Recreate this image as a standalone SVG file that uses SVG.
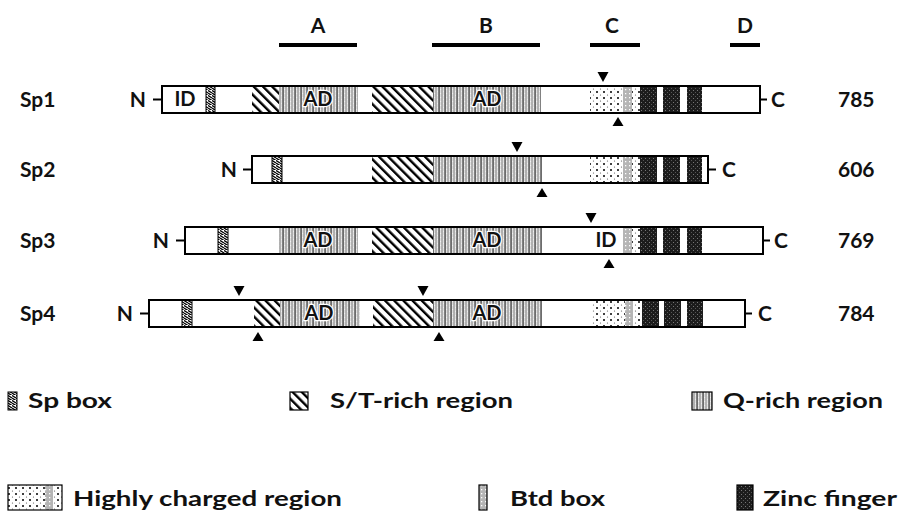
<svg xmlns="http://www.w3.org/2000/svg" width="898" height="515" viewBox="0 0 898 515">
<style>
.t{font-family:Lato,"Open Sans","Liberation Sans",sans-serif;font-weight:700;fill:#111}
.lbl{font-size:21px}
.hd{font-size:21px}
.leg{font-size:20px}
.ad{font-size:20px;text-anchor:middle;stroke:#fff;stroke-width:2.5px;paint-order:stroke;stroke-linejoin:round}
.bar{fill:none;stroke:#000;stroke-width:2}
.dash{stroke:#000;stroke-width:2}
.hbar{stroke:#000;stroke-width:4}
.tri{fill:#000}
.st{fill:url(#st)}
.q{fill:url(#q)}
.sp{fill:url(#sp);stroke:#000;stroke-width:1}
.hc{fill:url(#hc)}
.btd{fill:url(#btd)}
.zn{fill:url(#zn)}
.w{fill:#fff}
</style>
<defs>
<pattern id="st" patternUnits="userSpaceOnUse" width="6.5" height="6.5" patternTransform="rotate(-45)">
<rect width="6.5" height="6.5" fill="#fff"/>
<rect x="0" y="0" width="2.4" height="6.5" fill="#000"/>
</pattern>
<pattern id="q" patternUnits="userSpaceOnUse" width="6" height="4">
<rect width="6" height="4" fill="#e0e0e0"/>
<rect x="0.5" width="1.1" height="4" fill="#222"/>
<rect x="3.6" width="0.8" height="4" fill="#666"/>
<rect x="2.3" y="1" width="0.8" height="0.8" fill="#fff"/>
<rect x="5" y="3" width="0.7" height="0.7" fill="#fff"/>
</pattern>
<pattern id="sp" patternUnits="userSpaceOnUse" width="4" height="5">
<rect width="4" height="5" fill="#fff"/>
<path d="M0 0.5 L4 3 M0 3 L4 5.5" stroke="#000" stroke-width="1.4" fill="none"/>
</pattern>
<pattern id="hc" patternUnits="userSpaceOnUse" width="7" height="6">
<rect width="7" height="6" fill="#fff"/>
<circle cx="2" cy="2" r="1" fill="#000"/>
<circle cx="5.5" cy="5" r="0.6" fill="#555"/>
</pattern>
<pattern id="btd" patternUnits="userSpaceOnUse" width="4" height="4">
<rect width="4" height="4" fill="#b5b5b5"/>
<rect x="1" y="1" width="1.3" height="1.3" fill="#fff"/>
</pattern>
<pattern id="zn" patternUnits="userSpaceOnUse" width="4" height="4">
<rect width="4" height="4" fill="#1c1c1c"/>
<rect x="1" y="2" width="1" height="1" fill="#777"/>
<rect x="3" y="0" width="1" height="1" fill="#555"/>
</pattern>
</defs>
<rect width="898" height="515" fill="#fff"/>

<g id="header">
<text class="t hd" x="318" y="33" text-anchor="middle">A</text>
<text class="t hd" x="486" y="33" text-anchor="middle">B</text>
<text class="t hd" x="612" y="33" text-anchor="middle">C</text>
<text class="t hd" x="745" y="33" text-anchor="middle">D</text>
<line class="hbar" x1="279" y1="45" x2="357" y2="45"/>
<line class="hbar" x1="432" y1="45" x2="540" y2="45"/>
<line class="hbar" x1="590" y1="45" x2="640" y2="45"/>
<line class="hbar" x1="730" y1="45" x2="760" y2="45"/>
</g>

<g id="sp1">
<text class="t lbl" x="20" y="107">Sp1</text>
<text class="t lbl" x="146" y="107" text-anchor="end">N</text>
<text class="t lbl" x="838" y="107">785</text>
<text class="t lbl" x="771" y="107">C</text>
<rect class="w" x="162" y="86" width="598" height="27"/>
<rect class="sp" x="206" y="86" width="9" height="27"/>
<rect class="st" x="252" y="86" width="27" height="27"/>
<rect class="q" x="279" y="86" width="79" height="27"/>
<rect class="st" x="372" y="86" width="61" height="27"/>
<rect class="q" x="433" y="86" width="108" height="27"/>
<rect class="hc" x="590" y="86" width="33" height="27"/>
<rect class="btd" x="623" y="86" width="9" height="27"/>
<rect class="hc" x="632" y="86" width="8" height="27"/>
<rect class="zn" x="640" y="86" width="17" height="27"/>
<rect class="zn" x="663" y="86" width="17" height="27"/>
<rect class="zn" x="687" y="86" width="15" height="27"/>
<rect class="bar" x="162" y="86" width="598" height="27"/>
<text class="t ad" x="185" y="106">ID</text>
<text class="t ad" x="318" y="106">AD</text>
<text class="t ad" x="487" y="106">AD</text>
<polygon class="tri" points="597.5,72 608.5,72 603,82"/>
<polygon class="tri" points="612.5,126 623.5,126 618,117"/>
</g>

<g id="sp2">
<text class="t lbl" x="20" y="177">Sp2</text>
<text class="t lbl" x="237" y="177" text-anchor="end">N</text>
<text class="t lbl" x="838" y="177">606</text>
<text class="t lbl" x="722" y="177">C</text>
<rect class="w" x="252" y="156" width="456" height="27"/>
<rect class="sp" x="272" y="156" width="10" height="27"/>
<rect class="st" x="372" y="156" width="61" height="27"/>
<rect class="q" x="433" y="156" width="109" height="27"/>
<rect class="hc" x="590" y="156" width="33" height="27"/>
<rect class="btd" x="623" y="156" width="9" height="27"/>
<rect class="hc" x="632" y="156" width="8" height="27"/>
<rect class="zn" x="640" y="156" width="17" height="27"/>
<rect class="zn" x="663" y="156" width="17" height="27"/>
<rect class="zn" x="687" y="156" width="15" height="27"/>
<rect class="bar" x="252" y="156" width="456" height="27"/>
<polygon class="tri" points="511.5,142 522.5,142 517,152"/>
<polygon class="tri" points="536.5,197 547.5,197 542,188"/>
</g>

<g id="sp3">
<text class="t lbl" x="20" y="248">Sp3</text>
<text class="t lbl" x="169" y="248" text-anchor="end">N</text>
<text class="t lbl" x="838" y="248">769</text>
<text class="t lbl" x="774" y="248">C</text>
<rect class="w" x="185" y="227" width="578" height="27"/>
<rect class="sp" x="218" y="227" width="10" height="27"/>
<rect class="q" x="279" y="227" width="79" height="27"/>
<rect class="st" x="372" y="227" width="61" height="27"/>
<rect class="q" x="433" y="227" width="109" height="27"/>
<rect class="btd" x="623" y="227" width="9" height="27"/>
<rect class="hc" x="632" y="227" width="8" height="27"/>
<rect class="zn" x="640" y="227" width="17" height="27"/>
<rect class="zn" x="663" y="227" width="17" height="27"/>
<rect class="zn" x="687" y="227" width="15" height="27"/>
<rect class="bar" x="185" y="227" width="578" height="27"/>
<text class="t ad" x="318" y="247">AD</text>
<text class="t ad" x="487" y="247">AD</text>
<text class="t ad" x="606" y="247">ID</text>
<polygon class="tri" points="585.5,213 596.5,213 591,223"/>
<polygon class="tri" points="603.5,268 614.5,268 609,259"/>
</g>

<g id="sp4">
<text class="t lbl" x="20" y="321">Sp4</text>
<text class="t lbl" x="133" y="321" text-anchor="end">N</text>
<text class="t lbl" x="838" y="321">784</text>
<text class="t lbl" x="758" y="321">C</text>
<rect class="w" x="149" y="300" width="596" height="27"/>
<rect class="sp" x="182" y="300" width="10" height="27"/>
<rect class="st" x="254" y="300" width="26" height="27"/>
<rect class="q" x="280" y="300" width="80" height="27"/>
<rect class="st" x="373" y="300" width="60" height="27"/>
<rect class="q" x="433" y="300" width="109" height="27"/>
<rect class="hc" x="592" y="300" width="33" height="27"/>
<rect class="btd" x="625" y="300" width="8" height="27"/>
<rect class="hc" x="633" y="300" width="9" height="27"/>
<rect class="zn" x="642" y="300" width="17" height="27"/>
<rect class="zn" x="664" y="300" width="17" height="27"/>
<rect class="zn" x="687" y="300" width="16" height="27"/>
<rect class="bar" x="149" y="300" width="596" height="27"/>
<text class="t ad" x="319" y="320">AD</text>
<text class="t ad" x="487" y="320">AD</text>
<polygon class="tri" points="233.5,286 244.5,286 239,296"/>
<polygon class="tri" points="417.5,286 428.5,286 423,296"/>
<polygon class="tri" points="252.5,341 263.5,341 258,332"/>
<polygon class="tri" points="433.5,341 444.5,341 439,332"/>
</g>

<g id="connectors">
<line class="dash" x1="153" y1="99.5" x2="162" y2="99.5"/>
<line class="dash" x1="760" y1="99.5" x2="767" y2="99.5"/>
<line class="dash" x1="243" y1="169.5" x2="252" y2="169.5"/>
<line class="dash" x1="708" y1="169.5" x2="716" y2="169.5"/>
<line class="dash" x1="176" y1="240.5" x2="185" y2="240.5"/>
<line class="dash" x1="763" y1="240.5" x2="770" y2="240.5"/>
<line class="dash" x1="140" y1="313.5" x2="149" y2="313.5"/>
<line class="dash" x1="745" y1="313.5" x2="752" y2="313.5"/>
</g>

<g id="legend-sp">
<rect class="sp" x="8" y="392" width="9" height="18"/>
<text class="t leg" x="28" y="408" textLength="84" lengthAdjust="spacingAndGlyphs">Sp box</text>
</g>
<g id="legend-st">
<rect class="st" x="290" y="392" width="18" height="18" stroke="#000" stroke-width="1.2"/>
<text class="t leg" x="330" y="408" textLength="183" lengthAdjust="spacingAndGlyphs">S/T-rich region</text>
</g>
<g id="legend-q">
<rect class="q" x="692" y="392" width="20" height="18" stroke="#000" stroke-width="1.2"/>
<text class="t leg" x="723" y="408" textLength="160" lengthAdjust="spacingAndGlyphs">Q-rich region</text>
</g>
<g id="legend-hc">
<rect class="hc" x="8" y="485" width="37" height="25"/>
<rect class="btd" x="45" y="485" width="8" height="25"/>
<rect class="hc" x="53" y="485" width="9" height="25"/>
<rect fill="none" stroke="#000" stroke-width="1.2" x="8" y="485" width="54" height="25"/>
<text class="t leg" x="73" y="506" textLength="269" lengthAdjust="spacingAndGlyphs">Highly charged region</text>
</g>
<g id="legend-btd">
<rect class="btd" x="479" y="485" width="8" height="25" stroke="#000" stroke-width="1.2"/>
<text class="t leg" x="510" y="506" textLength="95" lengthAdjust="spacingAndGlyphs">Btd box</text>
</g>
<g id="legend-zn">
<rect class="zn" x="737" y="485" width="16" height="25" stroke="#000" stroke-width="1.2"/>
<text class="t leg" x="763" y="506" textLength="134" lengthAdjust="spacingAndGlyphs">Zinc finger</text>
</g>
</svg>
